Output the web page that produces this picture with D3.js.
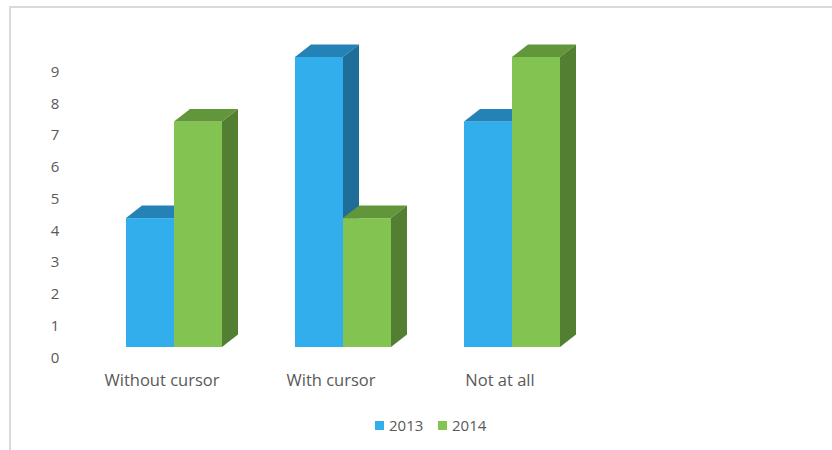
<!DOCTYPE html>
<html>
<head>
<meta charset="utf-8">
<script src="https://cdn.jsdelivr.net/npm/d3@7"></script>
<style>
  html, body { margin: 0; padding: 0; background: #fff; }
  svg { display: block; }
  text { font-family: "Open Sans", "Lato", sans-serif; fill: #595959; }
</style>
</head>
<body>
<svg id="chart" width="832" height="450"></svg>
<script>
// Survey answers per category, one array per year
const categories = ["Without cursor", "With cursor", "Not at all"];
const seriesNames = ["2013", "2014"];
const values2013 = [4, 9, 7];
const values2014 = [7, 4, 9];
const yTicks = [0, 1, 2, 3, 4, 5, 6, 7, 8, 9];

const palette = {
  "2013": { front: "#32aeec", top: "#2582b6", side: "#1f6d99" },
  "2014": { front: "#82c351", top: "#62963b", side: "#537f32" }
};

const svg = d3.select("#chart");

// Light frame along the top and left edges
svg.append("line").attr("x1", 9).attr("x2", 832).attr("y1", 7).attr("y2", 7)
  .attr("stroke", "#d9d9d9").attr("stroke-width", 2);
svg.append("line").attr("x1", 10).attr("x2", 10).attr("y1", 6).attr("y2", 450)
  .attr("stroke", "#d9d9d9").attr("stroke-width", 2);

// Scales: bars on the front plane, tick labels on the back wall
const x = d3.scaleBand().domain(categories).range([89.5, 596.5])
  .paddingInner(73 / 169).paddingOuter(73 / 338);
const xs = d3.scaleBand().domain(seriesNames).range([0, x.bandwidth()]);
const y = d3.scaleLinear().domain([0, 9]).range([347, 57]);
const yWall = d3.scaleLinear().domain([0, 9]).range([357, 71]);

const depthX = 16, depthY = 12.5;

// Value axis labels
const yAxis = svg.append("g")
  .attr("transform", "translate(55,0)")
  .call(d3.axisLeft(yWall).tickValues(yTicks).tickSize(0).tickPadding(0).tickFormat(d3.format("d")));
yAxis.select(".domain").remove();
yAxis.selectAll("text")
  .attr("text-anchor", "middle")
  .attr("x", 0)
  .attr("dy", "0.35em")
  .style("font-size", "15px")
  .style("font-family", "'Open Sans', sans-serif")
  .attr("fill", "#595959");

// 3D columns: front face, top and right side
const rows = [];
categories.forEach((c, i) => {
  rows.push({ cat: c, series: "2013", value: values2013[i] });
  rows.push({ cat: c, series: "2014", value: values2014[i] });
});

const bars = svg.append("g").selectAll("g.bar").data(rows).join("g").attr("class", "bar");
bars.each(function (d) {
  const g = d3.select(this);
  const x0 = x(d.cat) + xs(d.series);
  const x1 = x0 + xs.bandwidth();
  const yt = y(d.value), yb = y(0);
  const col = palette[d.series];
  g.append("rect")
    .attr("x", x0).attr("y", yt)
    .attr("width", x1 - x0).attr("height", yb - yt)
    .attr("fill", col.front);
  g.append("path")
    .attr("d", `M${x0},${yt}L${x0 + depthX},${yt - depthY}L${x1 + depthX},${yt - depthY}L${x1},${yt}Z`)
    .attr("fill", col.top);
  g.append("path")
    .attr("d", `M${x1},${yt}L${x1 + depthX},${yt - depthY}L${x1 + depthX},${yb - depthY}L${x1},${yb}Z`)
    .attr("fill", col.side);
});

// Category labels
const xAxis = svg.append("g")
  .attr("transform", "translate(-12,0)")
  .call(d3.axisBottom(x).tickSize(0).tickPadding(0));
xAxis.select(".domain").remove();
xAxis.selectAll("text")
  .attr("y", 386)
  .attr("dy", 0)
  .style("font-size", "16.5px")
  .style("font-family", "'Open Sans', sans-serif")
  .attr("fill", "#595959");

// Legend
const legend = svg.append("g").selectAll("g").data(seriesNames).join("g")
  .attr("transform", (d, i) => `translate(${375 + i * 63},421)`);
legend.append("rect").attr("width", 9).attr("height", 9)
  .attr("fill", d => palette[d].front);
legend.append("text").attr("x", 14).attr("y", 10)
  .style("font-size", "15px")
  .text(d => d);
</script>
</body>
</html>
